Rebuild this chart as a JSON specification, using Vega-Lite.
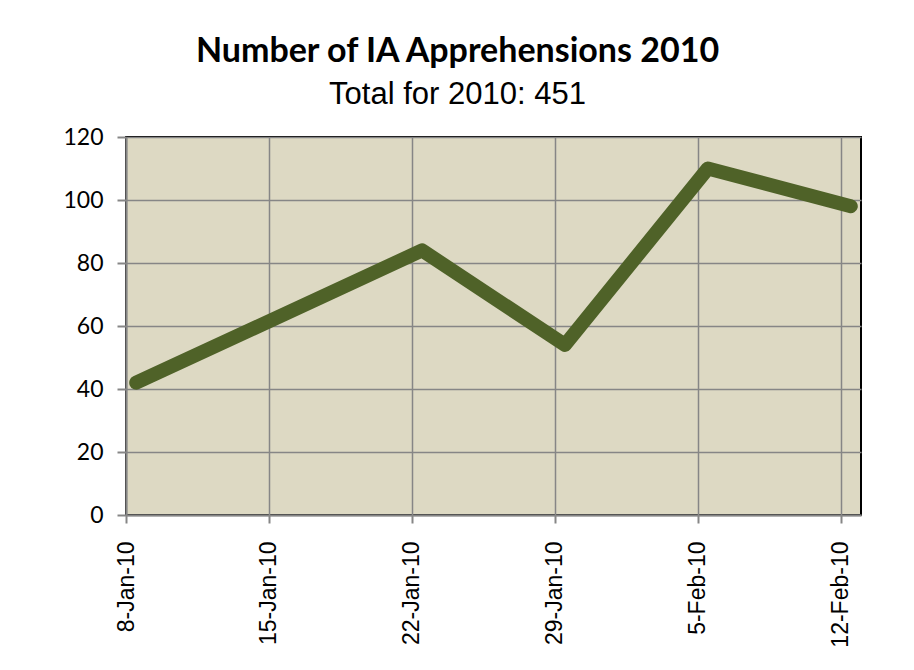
{
  "$schema": "https://vega.github.io/schema/vega-lite/v6.json",
  "width": 735,
  "height": 378,
  "autosize": "none",
  "padding": {"left": 126, "top": 137, "right": 53, "bottom": 155},
  "background": "white",
  "title": {
    "text": "Number of IA Apprehensions 2010",
    "subtitle": "Total for 2010: 451",
    "anchor": "middle",
    "frame": "group",
    "dx": -36,
    "font": "Lato",
    "fontSize": 34,
    "fontWeight": "bold",
    "color": "black",
    "subtitleFont": "Liberation Sans",
    "subtitleFontSize": 31,
    "subtitleColor": "black",
    "subtitlePadding": 11,
    "offset": 16
  },
  "data": {
    "values": [
      {"date": "2010-01-08", "count": 42},
      {"date": "2010-01-15", "count": 63},
      {"date": "2010-01-22", "count": 84},
      {"date": "2010-01-29", "count": 54},
      {"date": "2010-02-05", "count": 110},
      {"date": "2010-02-12", "count": 98}
    ]
  },
  "mark": {"type": "line", "color": "#4F6228", "strokeWidth": 14, "strokeCap": "round", "strokeJoin": "round"},
  "encoding": {
    "x": {
      "field": "date",
      "type": "temporal",
      "timeUnit": "yearmonthdate",
      "bandPosition": 0.5,
      "title": null,
      "scale": {"domain": [{"year": 2010, "month": 1, "date": 8}, {"year": 2010, "month": 2, "date": 13}]},
      "axis": {
        "values": [
          {"year": 2010, "month": 1, "date": 8},
          {"year": 2010, "month": 1, "date": 15},
          {"year": 2010, "month": 1, "date": 22},
          {"year": 2010, "month": 1, "date": 29},
          {"year": 2010, "month": 2, "date": 5},
          {"year": 2010, "month": 2, "date": 12}
        ],
        "format": "%-d-%b-%y",
        "labelAngle": 270,
        "labelAlign": "right",
        "labelBaseline": "middle",
        "labelFont": "Liberation Sans",
        "labelFontSize": 23,
        "labelColor": "black",
        "labelPadding": 18,
        "tickSize": 8,
        "labelFlush": false,
        "labelOverlap": false
      }
    },
    "y": {
      "field": "count",
      "type": "quantitative",
      "title": null,
      "scale": {"domain": [0, 120], "nice": false},
      "axis": {
        "values": [0, 20, 40, 60, 80, 100, 120],
        "labelFont": "Lato",
        "labelFontSize": 23,
        "labelColor": "black",
        "labelPadding": 14,
        "tickSize": 9
      }
    }
  },
  "config": {
    "view": {"fill": "#DDD9C3", "stroke": "black", "strokeWidth": 2},
    "axis": {
      "domainColor": "#868686",
      "domainWidth": 2,
      "tickColor": "#868686",
      "tickWidth": 2,
      "gridColor": "#868686",
      "gridWidth": 1.5,
      "gridOpacity": 1,
      "grid": true
    }
  }
}
